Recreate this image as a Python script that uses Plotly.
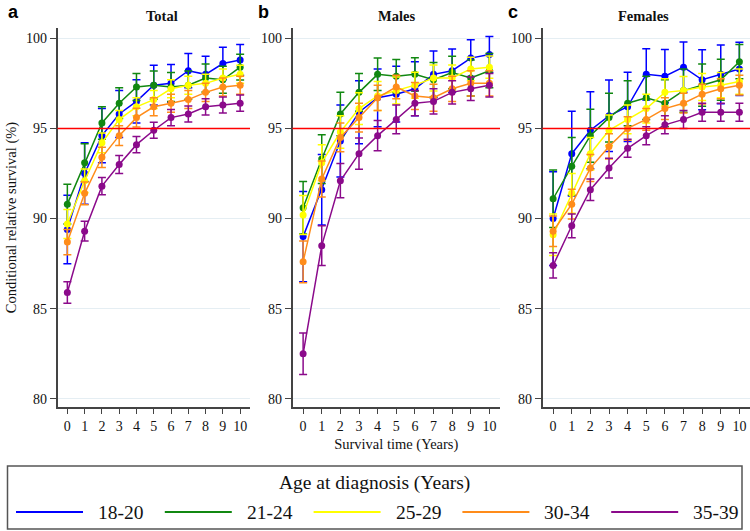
import plotly.graph_objects as go

W, H = 750, 531

years = list(range(11))
age_groups = ["18-20", "21-24", "25-29", "30-34", "35-39"]
colors = ["#0000FF", "#118811", "#FFFF00", "#FF8C1A", "#8B0A8B"]
panel_titles = ["Total", "Males", "Females"]
panel_letters = ["a", "b", "c"]
y_ticks = [80, 85, 90, 95, 100]
reference_level = 95

# ---- Total ----
total_1820 = [89.4, 92.5, 94.6, 95.8, 96.5, 97.4, 97.5, 98.2, 98.0, 98.6, 98.8]
total_1820_ci = [1.9, 1.7, 1.5, 1.3, 1.2, 1.1, 1.05, 0.95, 1.0, 0.9, 0.85]
total_2124 = [90.8, 93.1, 95.3, 96.4, 97.3, 97.4, 97.3, 97.4, 97.8, 97.7, 98.4]
total_2124_ci = [1.1, 1.05, 0.9, 0.85, 0.75, 0.78, 0.8, 0.78, 0.78, 0.75, 0.72]
total_2529 = [89.7, 92.1, 94.2, 95.5, 96.2, 96.6, 97.2, 97.4, 97.5, 97.8, 98.0]
total_2529_ci = [0.8, 0.65, 0.55, 0.5, 0.5, 0.5, 0.5, 0.5, 0.5, 0.5, 0.5]
total_3034 = [88.7, 91.4, 93.4, 94.6, 95.6, 96.2, 96.4, 96.6, 97.0, 97.3, 97.4]
total_3034_ci = [0.7, 0.63, 0.56, 0.55, 0.52, 0.5, 0.5, 0.5, 0.5, 0.5, 0.5]
total_3539 = [85.9, 89.3, 91.8, 93.0, 94.1, 94.9, 95.6, 95.8, 96.2, 96.3, 96.4]
total_3539_ci = [0.6, 0.55, 0.48, 0.5, 0.45, 0.44, 0.45, 0.45, 0.45, 0.45, 0.45]

# ---- Males ----
males_1820 = [89.0, 91.6, 94.3, 95.9, 96.7, 96.9, 97.2, 98.0, 98.2, 98.9, 99.1]
males_1820_ci = [2.5, 1.95, 2.0, 1.75, 1.6, 1.55, 1.5, 1.3, 1.2, 1.02, 1.0]
males_2124 = [90.6, 93.3, 95.8, 97.0, 98.0, 97.9, 98.0, 97.7, 98.1, 97.8, 98.2]
males_2124_ci = [1.45, 1.35, 1.2, 1.05, 0.9, 0.92, 0.92, 0.95, 0.9, 1.0, 0.95]
males_2529 = [90.2, 93.1, 94.8, 96.1, 96.8, 97.1, 97.4, 97.8, 97.8, 98.3, 98.4]
males_2529_ci = [1.08, 1.0, 0.9, 0.88, 0.8, 0.75, 0.72, 0.72, 0.72, 0.65, 0.62]
males_3034 = [87.6, 92.2, 94.5, 95.6, 96.7, 97.3, 96.8, 96.7, 97.2, 97.5, 97.5]
males_3034_ci = [1.16, 1.0, 0.8, 0.8, 0.7, 0.65, 0.75, 0.75, 0.7, 0.7, 0.7]
males_3539 = [82.5, 88.5, 92.1, 93.6, 94.6, 95.5, 96.4, 96.5, 97.0, 97.2, 97.4]
males_3539_ci = [1.15, 1.1, 0.95, 0.87, 0.84, 0.8, 0.7, 0.7, 0.65, 0.65, 0.65]

# ---- Females ----
females_1820 = [90.0, 93.6, 94.9, 95.7, 96.2, 98.0, 97.9, 98.4, 97.7, 98.0, 98.3]
females_1820_ci = [2.6, 2.35, 2.13, 1.98, 1.92, 1.42, 1.48, 1.39, 1.66, 1.63, 1.48]
females_2124 = [91.1, 92.9, 94.6, 95.6, 96.4, 96.7, 96.4, 97.1, 97.4, 97.7, 98.7]
females_2124_ci = [1.6, 1.6, 1.47, 1.35, 1.25, 1.2, 1.3, 1.2, 1.17, 1.14, 0.95]
females_2529 = [89.1, 91.4, 93.6, 94.9, 95.5, 96.1, 97.0, 97.1, 97.3, 97.4, 97.6]
females_2529_ci = [1.15, 1.1, 0.9, 0.85, 0.8, 0.8, 0.75, 0.78, 0.75, 0.7, 0.7]
females_3034 = [89.3, 90.8, 92.8, 94.0, 95.0, 95.5, 96.1, 96.4, 96.9, 97.2, 97.4]
females_3034_ci = [0.85, 0.83, 0.75, 0.7, 0.65, 0.6, 0.6, 0.55, 0.55, 0.55, 0.55]
females_3539 = [87.4, 89.6, 91.6, 92.8, 93.9, 94.6, 95.2, 95.5, 95.9, 95.9, 95.9]
females_3539_ci = [0.7, 0.66, 0.6, 0.55, 0.5, 0.5, 0.5, 0.5, 0.5, 0.5, 0.5]

panels = [
    [(total_1820, total_1820_ci), (total_2124, total_2124_ci), (total_2529, total_2529_ci),
     (total_3034, total_3034_ci), (total_3539, total_3539_ci)],
    [(males_1820, males_1820_ci), (males_2124, males_2124_ci), (males_2529, males_2529_ci),
     (males_3034, males_3034_ci), (males_3539, males_3539_ci)],
    [(females_1820, females_1820_ci), (females_2124, females_2124_ci), (females_2529, females_2529_ci),
     (females_3034, females_3034_ci), (females_3539, females_3539_ci)],
]

SERIF = "Liberation Serif, Times New Roman, serif"
AXIS_COLOR = "#444444"

# pixel layout
x_domains_px = [(57.5, 250), (292.5, 500), (542.5, 750)]
y_top_px, y_bot_px = 28, 407
title_x_px = [162, 396, 643]
letter_x_px = [6, 256, 506]

def px(x):
    return x / W

def py(y):
    return 1 - y / H

fig = go.Figure()

for p, series in enumerate(panels):
    ax = "" if p == 0 else str(p + 1)
    for g, (vals, ci) in enumerate(series):
        fig.add_trace(go.Scatter(
            x=years, y=vals, mode="lines+markers", name=age_groups[g],
            xaxis="x" + ax, yaxis="y" + ax,
            line=dict(color=colors[g], width=1.5),
            marker=dict(color=colors[g], size=7),
            error_y=dict(type="data", array=ci, visible=True, color=colors[g],
                         thickness=1.5, width=4),
            showlegend=False,
        ))

layout = dict(
    width=W, height=H, autosize=False,
    margin=dict(l=0, r=0, t=0, b=0),
    paper_bgcolor="white", plot_bgcolor="white",
    font=dict(family=SERIF, size=14, color="#111111"),
    showlegend=False,
)

shapes = []
annotations = []
for p in range(3):
    ax = "" if p == 0 else str(p + 1)
    xd = [px(x_domains_px[p][0]), min(1.0, px(x_domains_px[p][1]))]
    yd = [py(y_bot_px), py(y_top_px)]
    layout["xaxis" + ax] = dict(
        domain=xd, range=[-0.57, 10.57], anchor="y" + ax,
        tickvals=years, ticktext=[str(v) for v in years],
        showgrid=False, zeroline=False, showline=True, linecolor=AXIS_COLOR, linewidth=1.5,
        ticks="outside", ticklen=5, tickwidth=1.2, tickcolor=AXIS_COLOR,
        tickfont=dict(family=SERIF, size=14, color="#111111"),
        title=dict(text="Survival time (Years)" if p == 1 else "",
                   font=dict(family=SERIF, size=14.5), standoff=6),
    )
    layout["yaxis" + ax] = dict(
        domain=yd, range=[79.55, 100.57], anchor="x" + ax,
        tickvals=y_ticks,
        showgrid=True, gridcolor="#e5eef3", gridwidth=1, zeroline=False,
        showline=True, linecolor=AXIS_COLOR, linewidth=1.5,
        ticks="outside", ticklen=6, tickwidth=1.2, tickcolor=AXIS_COLOR,
        tickfont=dict(family=SERIF, size=14, color="#111111"),
        title=dict(text="Conditional relative survival (%)" if p == 0 else "",
                   font=dict(family=SERIF, size=14.5), standoff=6),
    )
    shapes.append(dict(type="line", xref="x" + ax + " domain", yref="y" + ax,
                       x0=0, x1=1, y0=reference_level, y1=reference_level,
                       line=dict(color="#FF0000", width=1.5), layer="above"))
    annotations.append(dict(text="<b>" + panel_titles[p] + "</b>", xref="paper", yref="paper",
                            x=px(title_x_px[p]), y=py(16), xanchor="center", yanchor="middle",
                            showarrow=False, font=dict(family=SERIF, size=14.5, color="#111111")))
    annotations.append(dict(text="<b>" + panel_letters[p] + "</b>", xref="paper", yref="paper",
                            x=px(letter_x_px[p]), y=py(12), xanchor="left", yanchor="middle",
                            showarrow=False, font=dict(family="Liberation Sans", size=18, color="#000000")))

# manual legend
box = (7.5, 466, 742, 529)
shapes.append(dict(type="rect", xref="paper", yref="paper",
                   x0=px(box[0]), x1=px(box[2]), y0=py(box[3]), y1=py(box[1]),
                   line=dict(color="#555555", width=1.5), fillcolor="rgba(0,0,0,0)"))
annotations.append(dict(text="Age at diagnosis (Years)", xref="paper", yref="paper",
                        x=px(374), y=py(483), xanchor="center", yanchor="middle", showarrow=False,
                        font=dict(family=SERIF, size=19.5, color="#111111")))
start_px, step_px, line_len_px, item_y_px = 16, 148.8, 67, 512
for g, name in enumerate(age_groups):
    x0 = start_px + g * step_px
    shapes.append(dict(type="line", xref="paper", yref="paper",
                       x0=px(x0), x1=px(x0 + line_len_px), y0=py(item_y_px), y1=py(item_y_px),
                       line=dict(color=colors[g], width=2)))
    annotations.append(dict(text=name, xref="paper", yref="paper",
                            x=px(x0 + line_len_px + 13), y=py(item_y_px), xanchor="left", yanchor="middle",
                            showarrow=False, font=dict(family=SERIF, size=19.5, color="#111111")))

layout["shapes"] = shapes
layout["annotations"] = annotations
fig.update_layout(**layout)
fig.write_html("out.html")
